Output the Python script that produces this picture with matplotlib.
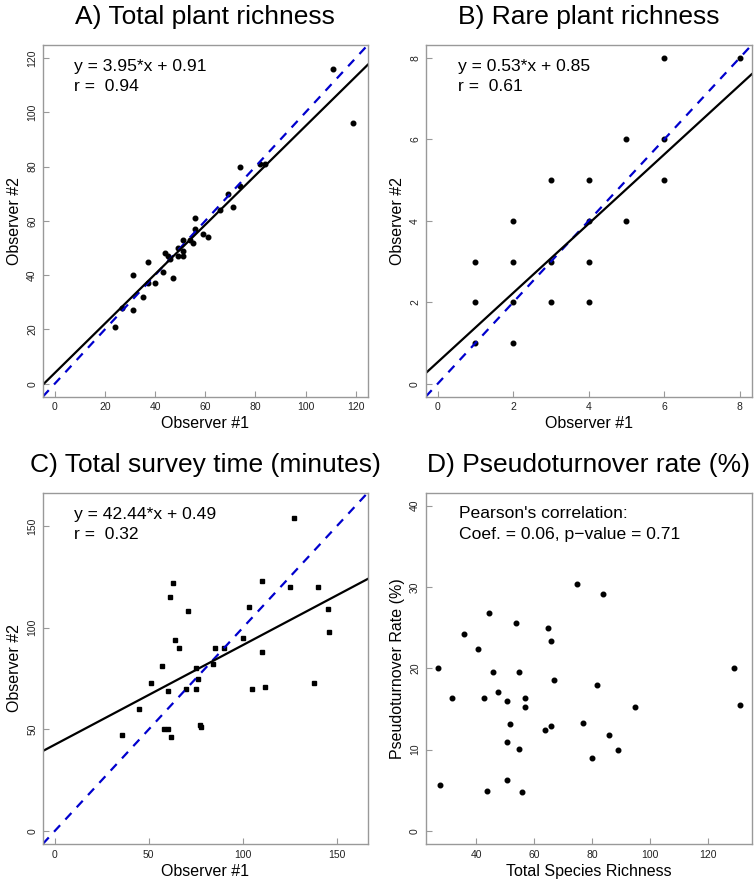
import matplotlib
matplotlib.use('Agg')
import matplotlib.pyplot as plt

plt.rcParams['font.family'] = ['Liberation Sans', 'DejaVu Sans']

# Panel A: total plant richness (observer 1 vs observer 2)
A_x = [111, 119, 74, 82, 84, 74, 69, 71, 66, 56, 56, 59, 61, 51, 54, 55, 51, 49, 49, 51,
       44, 45, 46, 37, 31, 43, 47, 37, 40, 35, 27, 31, 24]
A_y = [116, 96, 80, 81, 81, 73, 70, 65, 64, 61, 57, 55, 54, 53, 53, 52, 49, 50, 47, 47,
       48, 47, 46, 45, 40, 41, 39, 37, 37, 32, 28, 27, 21]
A_fit = (3.95, 0.91)  # intercept, slope
A_r = 0.94

# Panel B: rare plant richness
B_x = [1, 1, 1, 2, 2, 2, 2, 3, 3, 3, 4, 4, 4, 4, 5, 5, 6, 6, 6, 8]
B_y = [3, 2, 1, 4, 3, 2, 1, 5, 3, 2, 5, 4, 3, 2, 6, 4, 8, 6, 5, 8]
B_fit = (0.53, 0.85)
B_r = 0.61

# Panel C: total survey time (minutes)
C_x = [127, 110, 63, 61, 71, 125, 140, 103, 145, 146, 100, 64, 66, 85, 90, 110, 57, 84,
       75, 76, 75, 60, 51, 105, 112, 138, 70, 45, 58, 60, 77, 78, 36, 62]
C_y = [154, 123, 122, 115, 108, 120, 120, 110, 109, 98, 95, 94, 90, 90, 90, 88, 81, 82,
       80, 75, 70, 69, 73, 70, 71, 73, 70, 60, 50, 50, 52, 51, 47, 46]
C_fit = (42.44, 0.49)
C_r = 0.32

# Panel D: pseudoturnover rate vs total species richness
D_x = [26.7, 27.6, 31.7, 35.7, 40.7, 42.8, 43.7, 44.6, 45.8, 47.7, 50.7, 50.7, 50.7, 51.8,
       53.7, 54.8, 54.8, 55.8, 56.9, 56.9, 63.7, 64.9, 65.8, 65.8, 66.8, 74.9, 76.9, 79.9,
       81.8, 83.9, 85.9, 88.9, 95.0, 129.1, 131.1]
D_y = [20.0, 5.7, 16.4, 24.2, 22.4, 16.3, 4.9, 26.8, 19.5, 17.1, 16.0, 11.0, 6.3, 13.1,
       25.6, 19.6, 10.1, 4.8, 16.4, 15.2, 12.4, 25.0, 23.4, 12.9, 18.6, 30.4, 13.3, 9.0,
       18.0, 29.2, 11.8, 10.0, 15.2, 20.0, 15.5]


def r_lim(lo, hi):
    # R style 4% axis expansion
    d = (hi - lo) * 0.04
    return lo - d, hi + d


def style_axes(ax, title, xlabel, ylabel):
    ax.set_title(title, fontsize=19, pad=15)
    ax.set_xlabel(xlabel, fontsize=11.5, labelpad=3)
    ax.set_ylabel(ylabel, fontsize=11.5, labelpad=4)
    for s in ax.spines.values():
        s.set_color('#999999')
        s.set_linewidth(1.0)
    ax.tick_params(direction='in', length=4, width=0.8, color='#999999',
                   labelsize=7.5, labelcolor='#222222', pad=4)
    for lab in ax.get_yticklabels():
        lab.set_rotation(90)
        lab.set_va('center')


fig = plt.figure(figsize=(7.55, 8.82), dpi=100)

axA = fig.add_axes([0.0566, 0.5502, 0.4305, 0.3988])
axB = fig.add_axes([0.5638, 0.5502, 0.4318, 0.3988])
axC = fig.add_axes([0.0566, 0.0431, 0.4305, 0.3983])
axD = fig.add_axes([0.5638, 0.0431, 0.4318, 0.3983])

panels = [
    (axA, A_x, A_y, A_fit, A_r, 'o', (0, 120), range(0, 121, 20), 0.097, 'A) Total plant richness'),
    (axB, B_x, B_y, B_fit, B_r, 'o', (0, 8), range(0, 9, 2), 0.100, 'B) Rare plant richness'),
    (axC, C_x, C_y, C_fit, C_r, 's', (0, 160), range(0, 151, 50), 0.097, 'C) Total survey time (minutes)'),
]

for ax, xs, ys, fit, r, mk, lim, ticks, tx, title in panels:
    b, m = fit
    ax.plot(xs, ys, linestyle='none', marker=mk, color='black',
            markersize=3.3 if mk == 'o' else 3.0)
    ax.axline((0, 0), slope=1, color='#0000CD', lw=1.6, dashes=(4, 3.5))
    ax.axline((0, b), slope=m, color='black', lw=1.6)
    ax.set_xlim(*r_lim(*lim))
    ax.set_ylim(*r_lim(*lim))
    ax.set_xticks(list(ticks))
    ax.set_yticks(list(ticks))
    style_axes(ax, title, 'Observer #1', 'Observer #2')
    # equation label as printed on the original figure
    ax.text(tx, 0.938, f'y = {b:.2f}*x + {m:.2f}', transform=ax.transAxes,
            fontsize=12.6, ha='left', va='center')
    ax.text(tx, 0.881, f'r =  {r:.2f}', transform=ax.transAxes,
            fontsize=12.6, ha='left', va='center')

axD.plot(D_x, D_y, linestyle='none', marker='o', color='black', markersize=3.3)
axD.set_xlim(*r_lim(min(D_x), max(D_x)))
axD.set_ylim(*r_lim(0, 40))
axD.set_xticks(range(40, 121, 20))
axD.set_yticks(range(0, 41, 10))
style_axes(axD, 'D) Pseudoturnover rate (%)', 'Total Species Richness', 'Pseudoturnover Rate (%)')
axD.text(0.103, 0.941, "Pearson's correlation:", transform=axD.transAxes,
         fontsize=12.6, ha='left', va='center')
axD.text(0.103, 0.880, 'Coef. = 0.06, p\u2212value = 0.71', transform=axD.transAxes,
         fontsize=12.6, ha='left', va='center')

fig.savefig('out.png', dpi=100)
